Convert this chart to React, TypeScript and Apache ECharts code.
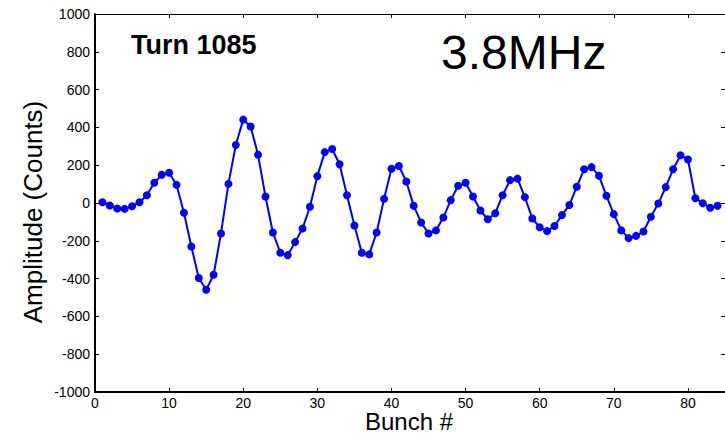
import React, { useEffect, useRef } from "react";
import * as echarts from "echarts";

const bunchNumbers = [
  1, 2, 3, 4, 5, 6, 7, 8, 9, 10, 11, 12, 13, 14, 15, 16, 17, 18, 19, 20, 21,
  22, 23, 24, 25, 26, 27, 28, 29, 30, 31, 32, 33, 34, 35, 36, 37, 38, 39, 40,
  41, 42, 43, 44, 45, 46, 47, 48, 49, 50, 51, 52, 53, 54, 55, 56, 57, 58, 59,
  60, 61, 62, 63, 64, 65, 66, 67, 68, 69, 70, 71, 72, 73, 74, 75, 76, 77, 78,
  79, 80, 81, 82, 83, 84,
];

const amplitudes = [
  4, -13, -29, -31, -17, 4, 41, 107, 149, 160, 96, -52, -230, -397, -459, -380,
  -161, 101, 307, 441, 405, 255, 34, -156, -263, -276, -207, -135, -20, 142,
  269, 286, 205, 41, -119, -263, -272, -156, 22, 181, 196, 114, -15, -103, -161,
  -145, -77, 15, 91, 107, 34, -40, -86, -54, 41, 121, 129, 31, -82, -128, -149,
  -122, -64, -11, 86, 179, 190, 144, 38, -59, -145, -186, -174, -151, -73, -3,
  84, 179, 253, 230, 25, -1, -25, -15,
];

const turnLabel = "Turn 1085";
const freqLabel = "3.8MHz";
const xAxisTitle = "Bunch #";
const yAxisTitle = "Amplitude (Counts)";

const FONT = "'Liberation Sans', Arial, Helvetica, sans-serif";

export default function App() {
  const ref = useRef<HTMLDivElement>(null);

  useEffect(() => {
    if (!ref.current) return;
    const chart = echarts.init(ref.current, undefined, { renderer: "svg" });
    const data = bunchNumbers.map((b, i) => [b, amplitudes[i]]);

    const baseX = {
      type: "value" as const,
      min: 0,
      max: 85,
      interval: 10,
      splitLine: { show: false },
    };
    const baseY = {
      type: "value" as const,
      min: -1000,
      max: 1000,
      interval: 200,
      splitLine: { show: false },
    };

    chart.setOption({
      animation: false,
      backgroundColor: "#ffffff",
      grid: { left: 95, top: 14, right: -1, bottom: 43, containLabel: false },
      xAxis: [
        {
          ...baseX,
          position: "bottom",
          axisLine: { show: true, onZero: false, lineStyle: { color: "#000", width: 2 } },
          axisTick: { show: true, inside: true, length: 4, lineStyle: { color: "#000", width: 1 } },
          axisLabel: {
            color: "#000",
            fontSize: 14,
            fontFamily: FONT,
            margin: 4,
            showMaxLabel: false,
            formatter: (v: number) => (v % 10 === 0 ? String(v) : ""),
          },
        },
        {
          ...baseX,
          position: "top",
          axisLine: { show: true, onZero: false, lineStyle: { color: "#000", width: 1 } },
          axisTick: { show: true, inside: true, length: 4, lineStyle: { color: "#000", width: 1 } },
          axisLabel: { show: false },
        },
      ],
      yAxis: [
        {
          ...baseY,
          position: "left",
          axisLine: { show: true, onZero: false, lineStyle: { color: "#000", width: 2 } },
          axisTick: { show: true, inside: true, length: 4, lineStyle: { color: "#000", width: 1 } },
          axisLabel: {
            color: "#000",
            fontSize: 14,
            fontFamily: FONT,
            margin: 5,
            formatter: (v: number) => String(v),
          },
        },
        {
          ...baseY,
          position: "right",
          axisLine: { show: true, onZero: false, lineStyle: { color: "#000", width: 1 } },
          axisTick: { show: true, inside: true, length: 4, lineStyle: { color: "#000", width: 1 } },
          axisLabel: { show: false },
        },
      ],
      series: [
        {
          type: "line",
          xAxisIndex: 0,
          yAxisIndex: 0,
          data,
          symbol: "circle",
          symbolSize: 8,
          showAllSymbol: true,
          color: "#0000ff",
          itemStyle: { color: "#0000ff" },
          lineStyle: { color: "#0000ff", width: 2 },
        },
      ],
      graphic: [
        {
          type: "text",
          x: 131,
          y: 31,
          style: {
            text: turnLabel,
            font: `bold 27px ${FONT}`,
            fill: "#000",
            textAlign: "left",
            textVerticalAlign: "top",
          },
        },
        {
          type: "text",
          x: 441,
          y: 28,
          style: {
            text: freqLabel,
            font: `48px ${FONT}`,
            fill: "#000",
            textAlign: "left",
            textVerticalAlign: "top",
          },
        },
        {
          type: "text",
          x: 409,
          y: 409,
          style: {
            text: xAxisTitle,
            font: `24px ${FONT}`,
            fill: "#000",
            textAlign: "center",
            textVerticalAlign: "top",
          },
        },
        {
          type: "text",
          x: 20,
          y: 212,
          rotation: Math.PI / 2,
          style: {
            text: yAxisTitle,
            font: `26px ${FONT}`,
            fill: "#000",
            textAlign: "center",
            textVerticalAlign: "top",
          },
        },
      ],
    });

    return () => chart.dispose();
  }, []);

  return (
    <div
      ref={ref}
      style={{ position: "absolute", left: 0, top: 0, width: 725, height: 435 }}
    />
  );
}
